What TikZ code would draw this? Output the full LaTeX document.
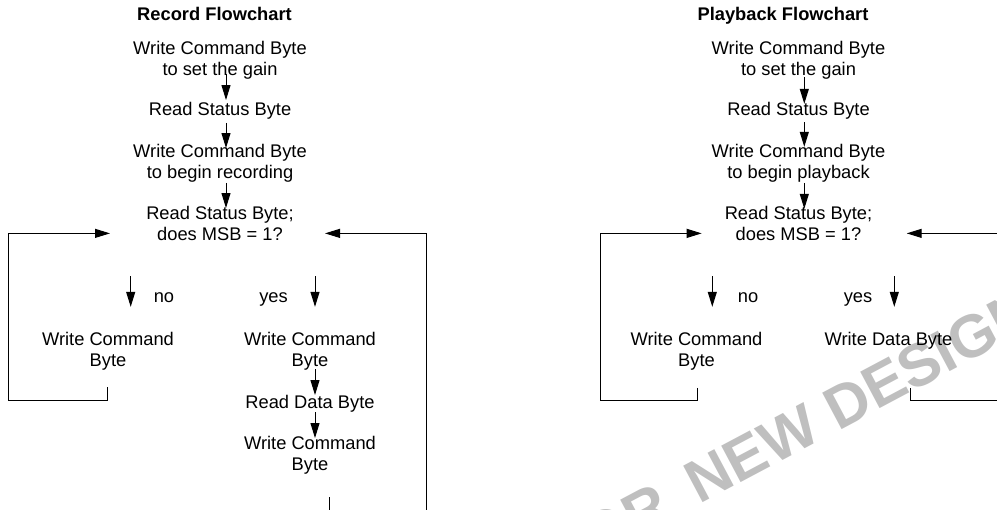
\documentclass[tikz,border=0pt]{standalone}
\usepackage{fontspec}
\setmainfont{Liberation Sans}
\usetikzlibrary{arrows.meta}
\begin{document}
\begin{tikzpicture}[x=1pt,y=-1pt,
  txt/.style={inner sep=0pt, font=\fontsize{18.3}{21}\selectfont, align=center, anchor=base},
  ttl/.style={txt, font=\fontsize{18.3}{21}\selectfont\bfseries},
  arr/.style={-{Triangle[length=15pt,width=9pt]}, line width=1pt},
  wm/.style={inner sep=0pt, anchor=base west, rotate=28, text=black!25, font=\fontsize{60}{60}\selectfont\bfseries}]
\useasboundingbox (0,0) rectangle (997,510);
\begin{scope}
\clip (0,0) rectangle (997,510);
% watermark
\node[wm] (wm) at (562.4,577.8) {FOR\hspace{12pt} NEW DESIGN};

% ---------- Record flowchart ----------
% (for two-line nodes the base anchor is the baseline of the last line)
\node[ttl] (t1) at (214.5,21) {Record Flowchart};
\node[txt] (w1) at (220,75.5) {Write Command Byte\\to set the gain};
\node[txt] (s1) at (220,115.5) {Read Status Byte};
\node[txt] (w2) at (220,179) {Write Command Byte\\to begin recording};
\node[txt] (d1) at (220,241) {Read Status Byte;\\does MSB = 1?};
\node[txt] (no1) at (164,302.5) {no};
\node[txt] (yes1) at (273.5,302.5) {yes};
\node[txt] (n1) at (108,366.5) {Write Command\\Byte};
\node[txt] (y1) at (310,366.5) {Write Command\\Byte};
\node[txt] (r1) at (310,408.5) {Read Data Byte};
\node[txt] (y2) at (310,470.5) {Write Command\\Byte};

\draw[arr] ([xshift=6pt,yshift=5pt]w1.south) -- ([xshift=6pt,yshift=2pt]s1.north);
\draw[arr] ([xshift=6pt,yshift=-3.5pt]s1.south) -- ([xshift=6pt,yshift=-3.5pt]w2.north);
\draw[arr] ([xshift=6pt]w2.south) -- ([xshift=6pt,yshift=-1.5pt]d1.north);

\draw[arr] ([shift={(-89.3,35)}]d1.south) -- ([shift={(22.7,-25.2)}]n1.north);
\draw[arr] ([shift={(95,35)}]d1.south) -- ([shift={(5,-25.2)}]y1.north);

\draw[arr] ([xshift=5pt,yshift=1pt]y1.south) -- ([xshift=5pt]r1.north);
\draw[arr] ([xshift=5pt]r1.south) -- ([xshift=5pt,yshift=-2pt]y2.north);

\coordinate (cL1) at (8,401);
\draw[arr] ([xshift=-1pt,yshift=-16.6pt]n1.south) |- (cL1) |- ([shift={(-110,-8)}]d1.south);
\coordinate (cR1) at (426,525);
\draw[arr] ([xshift=19pt,yshift=-22.6pt]y2.south) |- (cR1) |- ([shift={(105,-8)}]d1.south);

% ---------- Playback flowchart ----------
\node[ttl] (t2) at (783,21) {Playback Flowchart};
\node[txt] (w3) at (798.5,75.5) {Write Command Byte\\to set the gain};
\node[txt] (s2) at (798.5,115.5) {Read Status Byte};
\node[txt] (w4) at (798.5,179) {Write Command Byte\\to begin playback};
\node[txt] (d2) at (798.5,241) {Read Status Byte;\\does MSB = 1?};
\node[txt] (no2) at (748,302.5) {no};
\node[txt] (yes2) at (858,302.5) {yes};
\node[txt] (n2) at (696.5,366.5) {Write Command\\Byte};
\node[txt] (y3) at (888.5,345.5) {Write Data Byte};

\draw[arr] ([xshift=5.8pt,yshift=2.4pt]w3.south) -- ([xshift=5.8pt,yshift=-1.8pt]s2.north);
\draw[arr] ([xshift=5.8pt,yshift=-2.6pt]s2.south) -- ([xshift=5.8pt,yshift=-2.3pt]w4.north);
\draw[arr] ([xshift=5.8pt]w4.south) -- ([xshift=5.8pt,yshift=-2.3pt]d2.north);

\draw[arr] ([shift={(-86.2,35)}]d2.south) -- ([shift={(15.8,-25.2)}]n2.north);
\draw[arr] ([shift={(95.8,35)}]d2.south) -- ([shift={(5.8,-25.2)}]y3.north);

\coordinate (cL2) at (600.7,401);
\draw[arr] ([xshift=1.2pt,yshift=-17.3pt]n2.south) |- (cL2) |- ([shift={(-96.8,-8)}]d2.south);
\coordinate (cR2) at (1012,401);
\draw[arr] ([xshift=22.2pt,yshift=-38.6pt]y3.south) |- (cR2) |- ([shift={(108.2,-8)}]d2.south);
\end{scope}
\end{tikzpicture}
\end{document}
